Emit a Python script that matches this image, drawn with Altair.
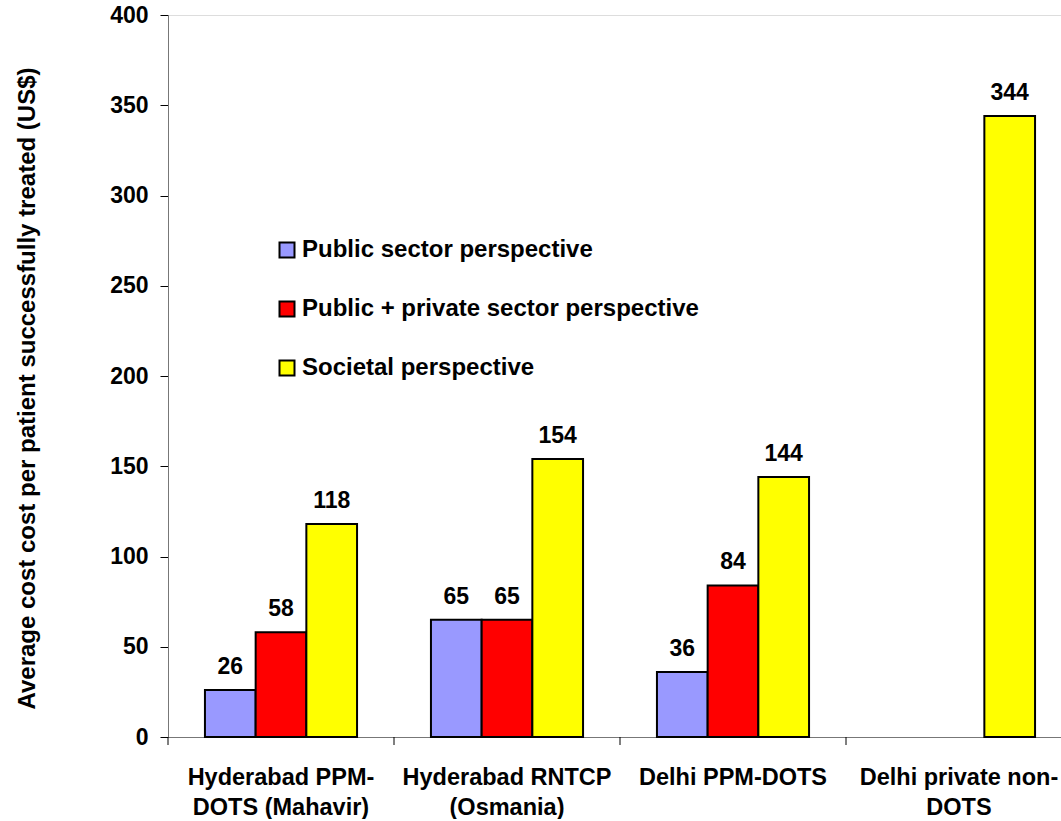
import altair as alt
import pandas as pd

# ---- data ----
categories = [
    "Hyderabad PPM-\nDOTS (Mahavir)",
    "Hyderabad RNTCP\n(Osmania)",
    "Delhi PPM-DOTS",
    "Delhi private non-\nDOTS",
]
series = [
    "Public sector perspective",
    "Public + private sector perspective",
    "Societal perspective",
]
public_sector = [26, 65, 36, None]
public_private = [58, 65, 84, None]
societal = [118, 154, 144, 344]
colors = ["#9999FF", "#FF0000", "#FFFF00"]
y_ticks = [0, 50, 100, 150, 200, 250, 300, 350, 400]
y_title = "Average cost cost per patient successfully treated (US$)"

rows = []
for s, vals in zip(series, [public_sector, public_private, societal]):
    for c, v in zip(categories, vals):
        if v is not None:
            rows.append({"category": c, "series": s, "value": v})
df = pd.DataFrame(rows)
cat_df = pd.DataFrame({"category": categories})

FONT = "Liberation Sans"
W, H = 893, 722
RANGE_W = 904
PAD_INNER = 0.327
STEP = RANGE_W / len(categories)

x_scale = alt.Scale(domain=categories, range=[0, RANGE_W],
                    paddingInner=PAD_INNER, paddingOuter=PAD_INNER / 2)
xo_scale = alt.Scale(domain=series, paddingInner=0, paddingOuter=0)
y_scale = alt.Scale(domain=[0, 400], nice=False, zero=True)

x_axis = alt.Axis(
    title=None, labelAngle=0, ticks=False, labelFontSize=23.5,
    labelFontWeight="bold", labelFont=FONT, labelColor="black",
    labelPadding=28, labelLineHeight=30, labelLimit=400,
    labelExpr="split(datum.label, '\\n')", domainColor="#777777",
    domainWidth=1, labelOverlap=False,
)
y_axis = alt.Axis(
    values=y_ticks, title=y_title, titleFontSize=24, titleFontWeight="bold",
    titleFont=FONT, titleColor="black", titleX=-134, titleY=373,
    titleAngle=-90, titleAlign="center", titleBaseline="alphabetic",
    labelFontSize=23, labelFontWeight="bold", labelFont=FONT,
    labelColor="black", tickSize=8, tickColor="black", labelPadding=12,
    grid=False, domainColor="#777777", domainWidth=1,
)

bars = alt.Chart(df).mark_bar(stroke="black", strokeWidth=2).encode(
    x=alt.X("category:N", scale=x_scale, axis=x_axis, sort=categories),
    xOffset=alt.XOffset("series:N", scale=xo_scale, sort=series),
    y=alt.Y("value:Q", scale=y_scale, axis=y_axis),
    color=alt.Color(
        "series:N", sort=series,
        scale=alt.Scale(domain=series, range=colors),
        legend=alt.Legend(
            orient="none", legendX=107, legendY=223, title=None,
            symbolType="square", symbolSize=225, symbolStrokeColor="black",
            symbolStrokeWidth=2, symbolOpacity=1, labelFontSize=24,
            labelFontWeight="bold", labelFont=FONT, labelColor="black",
            labelOffset=3, rowPadding=35, labelLimit=600,
        ),
    ),
)

labels = alt.Chart(df).mark_text(
    font=FONT, fontSize=23, fontWeight="bold", baseline="alphabetic",
    align="center", dy=-16, color="black",
).encode(
    x=alt.X("category:N", scale=x_scale, sort=categories),
    xOffset=alt.XOffset("series:N", scale=xo_scale, sort=series),
    y=alt.Y("value:Q", scale=y_scale),
    text=alt.Text("value:Q"),
)

ticks = alt.Chart(cat_df).mark_rule(
    color="black", strokeWidth=1, xOffset=-PAD_INNER / 2 * STEP
).encode(
    x=alt.X("category:N", scale=x_scale, sort=categories, bandPosition=0),
    y=alt.value(H),
    y2=alt.value(H + 8),
)

chart = alt.layer(bars, labels, ticks).properties(
    width=W, height=H,
    autosize=alt.AutoSizeParams(type="none"),
    padding={"left": 168, "top": 15, "right": 0, "bottom": 82},
).configure_view(stroke=None).configure(background="white")

chart.save("out.html", embed_options={"renderer": "svg", "actions": False})
